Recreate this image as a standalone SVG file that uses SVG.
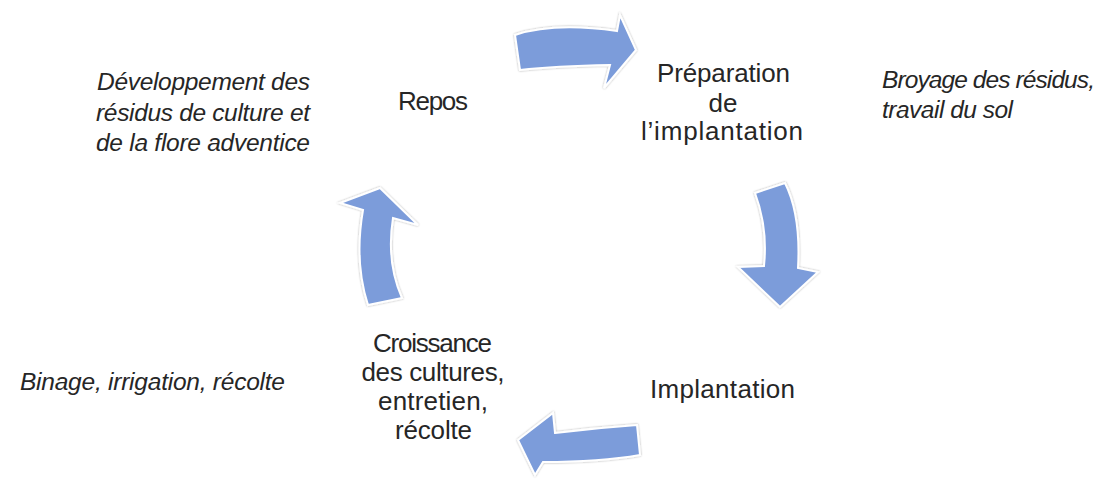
<svg xmlns="http://www.w3.org/2000/svg" width="1097" height="479" viewBox="0 0 1097 479">
  <defs>
    <filter id="sh" x="-20%" y="-20%" width="140%" height="140%">
      <feGaussianBlur in="SourceAlpha" stdDeviation="1.2"/>
      <feOffset dx="0" dy="0" result="b"/>
      <feComponentTransfer><feFuncA type="linear" slope="0.35"/></feComponentTransfer>
      <feMerge><feMergeNode/><feMergeNode in="SourceGraphic"/></feMerge>
    </filter>
  </defs>
  <style>
    .arr { fill: #7c9cda; stroke: #ffffff; stroke-width: 2; stroke-linejoin: miter; filter: url(#sh); }
    .lbl { font-family: "Liberation Sans", Arial, sans-serif; font-size: 26px; fill: #262626; text-anchor: middle; }
    .note { font-family: "Liberation Sans", Arial, sans-serif; font-size: 24.5px; font-style: italic; fill: #262626; }
  </style>
  <rect width="1097" height="479" fill="#ffffff"/>

  <g id="connectors">
    <path class="arr" d="M515,35 Q554,22 617,31 L620,15 L636,50 L604,88 L610,65 Q555,66 520,70 Z"/>
    <path class="arr" d="M755,193 L785,183 Q801,215 798,268 L818,272 L780,307 L738,267 L764,266 Q768,228 755,193 Z"/>
    <path class="arr" d="M637,425 Q595,428 555,433 L553,413 L518,440 L535,475 L543,462 Q600,462 640,455 Z"/>
    <path class="arr" d="M380,188 L418,225 L393,218 Q386,262 402,298 L368,305 Q354,262 363,210 L340,203 Z"/>
  </g>

  <g id="node-repos">
    <text class="lbl" x="433" y="110" textLength="70">Repos</text>
  </g>
  <g id="node-preparation">
    <text class="lbl" x="723.5" y="82" textLength="133">Préparation</text>
    <text class="lbl" x="723" y="112">de</text>
    <text class="lbl" x="722" y="140" textLength="162">l’implantation</text>
  </g>
  <g id="node-implantation">
    <text class="lbl" x="722.5" y="398" textLength="145">Implantation</text>
  </g>
  <g id="node-croissance">
    <text class="lbl" x="432.5" y="352" textLength="119">Croissance</text>
    <text class="lbl" x="433" y="381" textLength="143">des cultures,</text>
    <text class="lbl" x="433" y="410" textLength="110">entretien,</text>
    <text class="lbl" x="433.5" y="439" textLength="77">récolte</text>
  </g>

  <g id="note-repos">
    <text class="note" x="97" y="90" textLength="213">Développement des</text>
    <text class="note" x="96" y="121" textLength="214">résidus de culture et</text>
    <text class="note" x="96" y="151" textLength="214">de la flore adventice</text>
  </g>
  <g id="note-preparation">
    <text class="note" x="882" y="88" textLength="213">Broyage des résidus,</text>
    <text class="note" x="882" y="118" textLength="131">travail du sol</text>
  </g>
  <g id="note-croissance">
    <text class="note" x="20" y="390" textLength="265">Binage, irrigation, récolte</text>
  </g>
</svg>
